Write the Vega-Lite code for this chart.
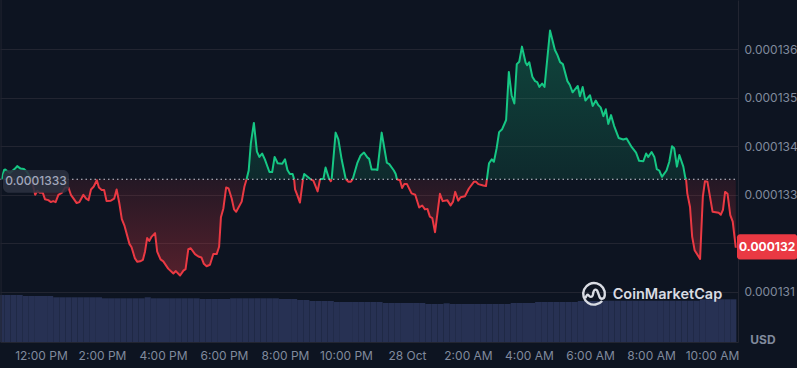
{
"$schema":"https://vega.github.io/schema/vega-lite/v6.json",
"width":738,"height":342,"autosize":"none",
"padding":{"left":0,"top":0,"right":59,"bottom":26},
"background":"#0d1421",
"config":{"view":{"stroke":null},"font":"Inter"},
"datasets":{
"vol":[{"h":10.7,"v":4.7},{"h":10.9,"v":4.7},{"h":11.1,"v":4.7},{"h":11.3,"v":4.7},{"h":11.5,"v":4.6},{"h":11.7,"v":4.6},{"h":11.9,"v":4.6},{"h":12.1,"v":4.6},{"h":12.3,"v":4.6},{"h":12.5,"v":4.47},{"h":12.7,"v":4.47},{"h":12.9,"v":4.47},{"h":13.1,"v":4.47},{"h":13.3,"v":4.47},{"h":13.5,"v":4.47},{"h":13.7,"v":4.47},{"h":13.9,"v":4.47},{"h":14.1,"v":4.37},{"h":14.3,"v":4.37},{"h":14.5,"v":4.37},{"h":14.7,"v":4.37},{"h":14.9,"v":4.37},{"h":15.1,"v":4.37},{"h":15.3,"v":4.37},{"h":15.5,"v":4.47},{"h":15.7,"v":4.37},{"h":15.9,"v":4.37},{"h":16.1,"v":4.37},{"h":16.3,"v":4.37},{"h":16.5,"v":4.37},{"h":16.7,"v":4.37},{"h":16.9,"v":4.37},{"h":17.1,"v":4.37},{"h":17.3,"v":4.3},{"h":17.5,"v":4.3},{"h":17.7,"v":4.3},{"h":17.9,"v":4.3},{"h":18.1,"v":4.3},{"h":18.3,"v":4.37},{"h":18.5,"v":4.37},{"h":18.7,"v":4.37},{"h":18.9,"v":4.37},{"h":19.1,"v":4.37},{"h":19.3,"v":4.37},{"h":19.5,"v":4.37},{"h":19.7,"v":4.37},{"h":19.9,"v":4.3},{"h":20.1,"v":4.3},{"h":20.3,"v":4.3},{"h":20.5,"v":4.2},{"h":20.7,"v":4.2},{"h":20.9,"v":4.1},{"h":21.1,"v":4.1},{"h":21.3,"v":4.1},{"h":21.5,"v":4.1},{"h":21.7,"v":4.0},{"h":21.9,"v":4.0},{"h":22.1,"v":4.0},{"h":22.3,"v":4.0},{"h":22.5,"v":4.0},{"h":22.7,"v":4.0},{"h":22.9,"v":4.0},{"h":23.1,"v":4.0},{"h":23.3,"v":3.9},{"h":23.5,"v":3.9},{"h":23.7,"v":3.9},{"h":23.9,"v":3.9},{"h":24.1,"v":3.9},{"h":24.3,"v":3.9},{"h":24.5,"v":3.9},{"h":24.7,"v":3.8},{"h":24.9,"v":3.8},{"h":25.1,"v":3.8},{"h":25.3,"v":3.87},{"h":25.5,"v":3.8},{"h":25.7,"v":3.8},{"h":25.9,"v":3.8},{"h":26.1,"v":3.8},{"h":26.3,"v":3.8},{"h":26.5,"v":3.8},{"h":26.7,"v":3.8},{"h":26.9,"v":3.8},{"h":27.1,"v":3.8},{"h":27.3,"v":3.8},{"h":27.5,"v":3.9},{"h":27.7,"v":3.9},{"h":27.9,"v":3.9},{"h":28.1,"v":3.9},{"h":28.3,"v":4.0},{"h":28.5,"v":4.0},{"h":28.7,"v":4.0},{"h":28.9,"v":4.0},{"h":29.1,"v":4.0},{"h":29.3,"v":4.0},{"h":29.5,"v":4.0},{"h":29.7,"v":4.1},{"h":29.9,"v":4.1},{"h":30.1,"v":4.1},{"h":30.3,"v":4.1},{"h":30.5,"v":4.13},{"h":30.7,"v":4.13},{"h":30.9,"v":4.13},{"h":31.1,"v":4.13},{"h":31.3,"v":4.13},{"h":31.5,"v":4.13},{"h":31.7,"v":4.13},{"h":31.9,"v":4.13},{"h":32.1,"v":4.13},{"h":32.3,"v":4.13},{"h":32.5,"v":4.13},{"h":32.7,"v":4.13},{"h":32.9,"v":4.13},{"h":33.1,"v":4.13},{"h":33.3,"v":4.13},{"h":33.5,"v":4.13},{"h":33.7,"v":4.27},{"h":33.9,"v":4.27},{"h":34.1,"v":4.27},{"h":34.3,"v":4.27},{"h":34.5,"v":4.27},{"h":34.7,"v":4.27}],
"price":[
{"h":10.71,"p":0.00013332,"s":1,"d":"up"},{"h":10.79,"p":0.00013351,"s":1,"d":"up"},{"h":10.83,"p":0.00013352,"s":1,"d":"up"},{"h":10.98,"p":0.00013345,"s":1,"d":"up"},{"h":11.15,"p":0.00013354,"s":1,"d":"up"},{"h":11.22,"p":0.00013359,"s":1,"d":"up"},{"h":11.33,"p":0.00013354,"s":1,"d":"up"},{"h":11.44,"p":0.00013353,"s":1,"d":"up"},{"h":11.53,"p":0.00013348,"s":1,"d":"up"},{"h":11.62,"p":0.00013339,"s":1,"d":"up"},{"h":11.70,"p":0.00013332,"s":1,"d":"up"},
{"h":11.70,"p":0.00013332,"s":2,"d":"down"},{"h":11.75,"p":0.00013316,"s":2,"d":"down"},{"h":11.81,"p":0.000133,"s":2,"d":"down"},{"h":11.88,"p":0.00013308,"s":2,"d":"down"},{"h":11.97,"p":0.00013304,"s":2,"d":"down"},{"h":12.06,"p":0.00013304,"s":2,"d":"down"},{"h":12.13,"p":0.00013291,"s":2,"d":"down"},{"h":12.24,"p":0.00013289,"s":2,"d":"down"},{"h":12.32,"p":0.00013285,"s":2,"d":"down"},{"h":12.40,"p":0.00013287,"s":2,"d":"down"},{"h":12.48,"p":0.00013285,"s":2,"d":"down"},{"h":12.57,"p":0.000133,"s":2,"d":"down"},{"h":12.68,"p":0.00013304,"s":2,"d":"down"},{"h":12.79,"p":0.00013315,"s":2,"d":"down"},{"h":12.90,"p":0.00013315,"s":2,"d":"down"},{"h":12.98,"p":0.000133,"s":2,"d":"down"},{"h":13.08,"p":0.00013291,"s":2,"d":"down"},{"h":13.17,"p":0.00013283,"s":2,"d":"down"},{"h":13.26,"p":0.00013285,"s":2,"d":"down"},{"h":13.39,"p":0.000133,"s":2,"d":"down"},{"h":13.48,"p":0.00013292,"s":2,"d":"down"},{"h":13.56,"p":0.00013289,"s":2,"d":"down"},{"h":13.64,"p":0.00013311,"s":2,"d":"down"},{"h":13.73,"p":0.00013317,"s":2,"d":"down"},{"h":13.83,"p":0.0001333,"s":2,"d":"down"},{"h":13.90,"p":0.00013315,"s":2,"d":"down"},{"h":13.99,"p":0.0001331,"s":2,"d":"down"},{"h":14.07,"p":0.0001331,"s":2,"d":"down"},{"h":14.15,"p":0.00013287,"s":2,"d":"down"},{"h":14.29,"p":0.00013288,"s":2,"d":"down"},{"h":14.40,"p":0.00013292,"s":2,"d":"down"},{"h":14.48,"p":0.00013311,"s":2,"d":"down"},{"h":14.57,"p":0.00013282,"s":2,"d":"down"},{"h":14.65,"p":0.0001325,"s":2,"d":"down"},{"h":14.74,"p":0.00013236,"s":2,"d":"down"},{"h":14.90,"p":0.00013199,"s":2,"d":"down"},{"h":14.97,"p":0.00013192,"s":2,"d":"down"},{"h":15.08,"p":0.00013169,"s":2,"d":"down"},{"h":15.16,"p":0.00013162,"s":2,"d":"down"},{"h":15.25,"p":0.00013163,"s":2,"d":"down"},{"h":15.34,"p":0.00013166,"s":2,"d":"down"},{"h":15.41,"p":0.00013183,"s":2,"d":"down"},{"h":15.48,"p":0.00013211,"s":2,"d":"down"},{"h":15.55,"p":0.00013205,"s":2,"d":"down"},{"h":15.63,"p":0.00013214,"s":2,"d":"down"},{"h":15.74,"p":0.00013221,"s":2,"d":"down"},{"h":15.81,"p":0.00013183,"s":2,"d":"down"},{"h":15.92,"p":0.00013167,"s":2,"d":"down"},{"h":16.01,"p":0.00013163,"s":2,"d":"down"},{"h":16.17,"p":0.00013148,"s":2,"d":"down"},{"h":16.34,"p":0.00013138,"s":2,"d":"down"},{"h":16.42,"p":0.00013143,"s":2,"d":"down"},{"h":16.56,"p":0.00013134,"s":2,"d":"down"},{"h":16.67,"p":0.00013144,"s":2,"d":"down"},{"h":16.74,"p":0.00013147,"s":2,"d":"down"},{"h":16.83,"p":0.00013188,"s":2,"d":"down"},{"h":16.91,"p":0.0001319,"s":2,"d":"down"},{"h":17.05,"p":0.00013178,"s":2,"d":"down"},{"h":17.16,"p":0.00013173,"s":2,"d":"down"},{"h":17.26,"p":0.00013171,"s":2,"d":"down"},{"h":17.34,"p":0.00013158,"s":2,"d":"down"},{"h":17.43,"p":0.00013153,"s":2,"d":"down"},{"h":17.54,"p":0.00013156,"s":2,"d":"down"},{"h":17.65,"p":0.00013178,"s":2,"d":"down"},{"h":17.76,"p":0.00013178,"s":2,"d":"down"},{"h":17.84,"p":0.00013193,"s":2,"d":"down"},{"h":17.90,"p":0.00013254,"s":2,"d":"down"},{"h":17.98,"p":0.00013272,"s":2,"d":"down"},{"h":18.07,"p":0.00013315,"s":2,"d":"down"},{"h":18.15,"p":0.00013313,"s":2,"d":"down"},{"h":18.25,"p":0.00013293,"s":2,"d":"down"},{"h":18.33,"p":0.0001327,"s":2,"d":"down"},{"h":18.40,"p":0.00013265,"s":2,"d":"down"},{"h":18.58,"p":0.00013286,"s":2,"d":"down"},{"h":18.67,"p":0.00013317,"s":2,"d":"down"},{"h":18.74,"p":0.00013332,"s":2,"d":"down"},
{"h":18.74,"p":0.00013332,"s":3,"d":"up"},{"h":18.81,"p":0.0001335,"s":3,"d":"up"},{"h":18.88,"p":0.00013406,"s":3,"d":"up"},{"h":18.98,"p":0.00013448,"s":3,"d":"up"},{"h":19.08,"p":0.00013389,"s":3,"d":"up"},{"h":19.16,"p":0.00013378,"s":3,"d":"up"},{"h":19.25,"p":0.00013385,"s":3,"d":"up"},{"h":19.34,"p":0.00013373,"s":3,"d":"up"},{"h":19.49,"p":0.00013347,"s":3,"d":"up"},{"h":19.58,"p":0.00013347,"s":3,"d":"up"},{"h":19.66,"p":0.00013378,"s":3,"d":"up"},{"h":19.76,"p":0.00013365,"s":3,"d":"up"},{"h":19.91,"p":0.00013364,"s":3,"d":"up"},{"h":20.00,"p":0.00013373,"s":3,"d":"up"},{"h":20.08,"p":0.00013351,"s":3,"d":"up"},{"h":20.16,"p":0.00013343,"s":3,"d":"up"},{"h":20.25,"p":0.00013343,"s":3,"d":"up"},{"h":20.30,"p":0.00013332,"s":3,"d":"up"},
{"h":20.30,"p":0.00013332,"s":4,"d":"down"},{"h":20.33,"p":0.00013311,"s":4,"d":"down"},{"h":20.40,"p":0.000133,"s":4,"d":"down"},{"h":20.49,"p":0.00013284,"s":4,"d":"down"},{"h":20.59,"p":0.00013332,"s":4,"d":"down"},
{"h":20.59,"p":0.00013332,"s":5,"d":"up"},{"h":20.63,"p":0.00013343,"s":5,"d":"up"},{"h":20.80,"p":0.00013334,"s":5,"d":"up"},{"h":20.84,"p":0.00013332,"s":5,"d":"up"},
{"h":20.84,"p":0.00013332,"s":6,"d":"down"},{"h":20.93,"p":0.00013329,"s":6,"d":"down"},{"h":21.07,"p":0.00013307,"s":6,"d":"down"},{"h":21.15,"p":0.00013332,"s":6,"d":"down"},
{"h":21.15,"p":0.00013332,"s":7,"d":"up"},{"h":21.26,"p":0.00013333,"s":7,"d":"up"},{"h":21.33,"p":0.00013356,"s":7,"d":"up"},{"h":21.43,"p":0.00013336,"s":7,"d":"up"},{"h":21.46,"p":0.00013332,"s":7,"d":"up"},
{"h":21.46,"p":0.00013332,"s":8,"d":"down"},{"h":21.50,"p":0.00013328,"s":8,"d":"down"},{"h":21.53,"p":0.00013332,"s":8,"d":"down"},
{"h":21.53,"p":0.00013332,"s":9,"d":"up"},{"h":21.66,"p":0.00013428,"s":9,"d":"up"},{"h":21.75,"p":0.00013414,"s":9,"d":"up"},{"h":21.86,"p":0.00013372,"s":9,"d":"up"},{"h":21.99,"p":0.00013333,"s":9,"d":"up"},{"h":22.00,"p":0.00013332,"s":9,"d":"up"},
{"h":22.00,"p":0.00013332,"s":10,"d":"down"},{"h":22.08,"p":0.00013327,"s":10,"d":"down"},{"h":22.16,"p":0.00013327,"s":10,"d":"down"},{"h":22.22,"p":0.00013332,"s":10,"d":"down"},
{"h":22.22,"p":0.00013332,"s":11,"d":"up"},{"h":22.37,"p":0.00013365,"s":11,"d":"up"},{"h":22.48,"p":0.00013381,"s":11,"d":"up"},{"h":22.59,"p":0.00013387,"s":11,"d":"up"},{"h":22.70,"p":0.00013377,"s":11,"d":"up"},{"h":22.76,"p":0.00013374,"s":11,"d":"up"},{"h":22.84,"p":0.00013352,"s":11,"d":"up"},{"h":22.98,"p":0.00013352,"s":11,"d":"up"},{"h":23.03,"p":0.00013351,"s":11,"d":"up"},{"h":23.17,"p":0.00013428,"s":11,"d":"up"},{"h":23.34,"p":0.00013366,"s":11,"d":"up"},{"h":23.42,"p":0.00013363,"s":11,"d":"up"},{"h":23.57,"p":0.0001335,"s":11,"d":"up"},{"h":23.63,"p":0.00013343,"s":11,"d":"up"},{"h":23.67,"p":0.00013332,"s":11,"d":"up"},
{"h":23.67,"p":0.00013332,"s":12,"d":"down"},{"h":23.77,"p":0.0001333,"s":12,"d":"down"},{"h":23.84,"p":0.00013314,"s":12,"d":"down"},{"h":23.91,"p":0.00013322,"s":12,"d":"down"},{"h":24.00,"p":0.00013322,"s":12,"d":"down"},{"h":24.15,"p":0.00013303,"s":12,"d":"down"},{"h":24.27,"p":0.000133,"s":12,"d":"down"},{"h":24.40,"p":0.00013274,"s":12,"d":"down"},{"h":24.50,"p":0.00013278,"s":12,"d":"down"},{"h":24.59,"p":0.0001327,"s":12,"d":"down"},{"h":24.67,"p":0.00013271,"s":12,"d":"down"},{"h":24.75,"p":0.00013255,"s":12,"d":"down"},{"h":24.83,"p":0.00013252,"s":12,"d":"down"},{"h":24.92,"p":0.00013223,"s":12,"d":"down"},{"h":25.08,"p":0.00013302,"s":12,"d":"down"},{"h":25.17,"p":0.00013287,"s":12,"d":"down"},{"h":25.32,"p":0.00013289,"s":12,"d":"down"},{"h":25.43,"p":0.00013278,"s":12,"d":"down"},{"h":25.51,"p":0.00013286,"s":12,"d":"down"},{"h":25.58,"p":0.00013306,"s":12,"d":"down"},{"h":25.68,"p":0.00013288,"s":12,"d":"down"},{"h":25.76,"p":0.00013295,"s":12,"d":"down"},{"h":25.90,"p":0.00013297,"s":12,"d":"down"},{"h":26.03,"p":0.00013313,"s":12,"d":"down"},{"h":26.20,"p":0.00013327,"s":12,"d":"down"},{"h":26.26,"p":0.00013327,"s":12,"d":"down"},{"h":26.34,"p":0.00013322,"s":12,"d":"down"},{"h":26.50,"p":0.00013319,"s":12,"d":"down"},{"h":26.59,"p":0.00013318,"s":12,"d":"down"},{"h":26.62,"p":0.00013332,"s":12,"d":"down"},
{"h":26.62,"p":0.00013332,"s":13,"d":"up"},{"h":26.69,"p":0.00013365,"s":13,"d":"up"},{"h":26.78,"p":0.00013373,"s":13,"d":"up"},{"h":26.85,"p":0.00013368,"s":13,"d":"up"},{"h":26.94,"p":0.00013396,"s":13,"d":"up"},{"h":27.02,"p":0.00013429,"s":13,"d":"up"},{"h":27.12,"p":0.00013435,"s":13,"d":"up"},{"h":27.25,"p":0.00013454,"s":13,"d":"up"},{"h":27.34,"p":0.00013553,"s":13,"d":"up"},{"h":27.43,"p":0.00013505,"s":13,"d":"up"},{"h":27.52,"p":0.00013488,"s":13,"d":"up"},{"h":27.60,"p":0.00013569,"s":13,"d":"up"},{"h":27.68,"p":0.00013574,"s":13,"d":"up"},{"h":27.77,"p":0.00013605,"s":13,"d":"up"},{"h":27.89,"p":0.00013572,"s":13,"d":"up"},{"h":27.94,"p":0.00013567,"s":13,"d":"up"},{"h":28.01,"p":0.00013573,"s":13,"d":"up"},{"h":28.11,"p":0.00013543,"s":13,"d":"up"},{"h":28.20,"p":0.00013534,"s":13,"d":"up"},{"h":28.27,"p":0.00013532,"s":13,"d":"up"},{"h":28.34,"p":0.00013522,"s":13,"d":"up"},{"h":28.43,"p":0.00013529,"s":13,"d":"up"},{"h":28.51,"p":0.00013522,"s":13,"d":"up"},{"h":28.69,"p":0.00013638,"s":13,"d":"up"},{"h":28.85,"p":0.00013598,"s":13,"d":"up"},{"h":28.93,"p":0.00013588,"s":13,"d":"up"},{"h":29.02,"p":0.00013573,"s":13,"d":"up"},{"h":29.11,"p":0.00013569,"s":13,"d":"up"},{"h":29.26,"p":0.00013534,"s":13,"d":"up"},{"h":29.34,"p":0.00013526,"s":13,"d":"up"},{"h":29.43,"p":0.00013511,"s":13,"d":"up"},{"h":29.60,"p":0.00013524,"s":13,"d":"up"},{"h":29.67,"p":0.00013503,"s":13,"d":"up"},{"h":29.76,"p":0.00013522,"s":13,"d":"up"},{"h":29.85,"p":0.00013494,"s":13,"d":"up"},{"h":30.00,"p":0.00013505,"s":13,"d":"up"},{"h":30.09,"p":0.00013483,"s":13,"d":"up"},{"h":30.19,"p":0.00013494,"s":13,"d":"up"},{"h":30.27,"p":0.00013485,"s":13,"d":"up"},{"h":30.35,"p":0.0001348,"s":13,"d":"up"},{"h":30.44,"p":0.00013462,"s":13,"d":"up"},{"h":30.52,"p":0.00013476,"s":13,"d":"up"},{"h":30.60,"p":0.00013446,"s":13,"d":"up"},{"h":30.69,"p":0.00013464,"s":13,"d":"up"},{"h":30.79,"p":0.00013442,"s":13,"d":"up"},{"h":30.94,"p":0.00013417,"s":13,"d":"up"},{"h":31.09,"p":0.00013414,"s":13,"d":"up"},{"h":31.20,"p":0.00013416,"s":13,"d":"up"},{"h":31.37,"p":0.00013398,"s":13,"d":"up"},{"h":31.51,"p":0.00013387,"s":13,"d":"up"},{"h":31.61,"p":0.0001337,"s":13,"d":"up"},{"h":31.75,"p":0.00013369,"s":13,"d":"up"},{"h":31.84,"p":0.00013385,"s":13,"d":"up"},{"h":31.91,"p":0.00013378,"s":13,"d":"up"},{"h":32.02,"p":0.00013388,"s":13,"d":"up"},{"h":32.11,"p":0.00013378,"s":13,"d":"up"},{"h":32.19,"p":0.00013353,"s":13,"d":"up"},{"h":32.27,"p":0.0001335,"s":13,"d":"up"},{"h":32.36,"p":0.00013337,"s":13,"d":"up"},{"h":32.51,"p":0.0001335,"s":13,"d":"up"},{"h":32.60,"p":0.00013368,"s":13,"d":"up"},{"h":32.69,"p":0.000134,"s":13,"d":"up"},{"h":32.76,"p":0.00013396,"s":13,"d":"up"},{"h":32.85,"p":0.00013358,"s":13,"d":"up"},{"h":32.93,"p":0.00013382,"s":13,"d":"up"},{"h":33.06,"p":0.00013358,"s":13,"d":"up"},{"h":33.12,"p":0.00013337,"s":13,"d":"up"},{"h":33.15,"p":0.00013332,"s":13,"d":"up"},
{"h":33.15,"p":0.00013332,"s":14,"d":"down"},{"h":33.19,"p":0.00013303,"s":14,"d":"down"},{"h":33.28,"p":0.00013275,"s":14,"d":"down"},{"h":33.35,"p":0.00013214,"s":14,"d":"down"},{"h":33.43,"p":0.00013186,"s":14,"d":"down"},{"h":33.61,"p":0.00013168,"s":14,"d":"down"},{"h":33.70,"p":0.00013296,"s":14,"d":"down"},{"h":33.77,"p":0.00013328,"s":14,"d":"down"},{"h":33.85,"p":0.00013327,"s":14,"d":"down"},{"h":34.02,"p":0.00013265,"s":14,"d":"down"},{"h":34.22,"p":0.00013263,"s":14,"d":"down"},{"h":34.29,"p":0.00013259,"s":14,"d":"down"},{"h":34.36,"p":0.00013269,"s":14,"d":"down"},{"h":34.43,"p":0.00013306,"s":14,"d":"down"},{"h":34.51,"p":0.00013302,"s":14,"d":"down"},{"h":34.60,"p":0.00013258,"s":14,"d":"down"},{"h":34.68,"p":0.00013245,"s":14,"d":"down"},{"h":34.78,"p":0.00013191,"s":14,"d":"down"}
]},
"encoding":{"x":{"field":"h","type":"quantitative","scale":{"domain":[10.656,34.853],"nice":false,"zero":false,"padding":0},
"axis":{"title":null,"values":[12,14,16,18,20,22,24,26,28,30,32,34],"grid":false,"ticks":false,"domainColor":"#222531","domainWidth":1,"labelColor":"#808a9d","labelFontSize":12,"labelPadding":8,"labelOverlap":false,"labelBound":false,"labelFlush":false,
"labelExpr":"datum.value==24?'28 Oct':(datum.value%12==0?12:datum.value%12)+':00 '+(datum.value<24?'PM':'AM')"}}},
"layer":[
{"data":{"name":"vol"},"mark":{"type":"bar","color":"#273153","size":6.1},
 "encoding":{"y":{"field":"v","type":"quantitative","scale":{"domain":[0,34.2],"nice":false},"axis":null}}},
{"encoding":{"y":{"field":"p","type":"quantitative","scale":{"domain":[0.00012997,0.00013701],"nice":false,"zero":false},
 "axis":{"title":null,"orient":"right","values":[0.000131,0.000132,0.000133,0.000134,0.000135,0.000136],"grid":true,"gridColor":"#222531","gridWidth":1,"ticks":false,"domainColor":"#222531","domainWidth":1,"labelColor":"#808a9d","labelFontSize":12,"labelPadding":6,"labelOverlap":false,"labelBound":false,"labelFlush":false,"labelExpr":"datum.value>0.0001315&&datum.value<0.0001325?'':format(datum.value,'.6f')"}}},
 "layer":[
 {"data":{"name":"price"},"transform":[{"filter":"datum.d=='up'"}],"mark":{"type":"area","fill":{"gradient":"linear","x1":0,"x2":0,"y1":0,"y2":1,"stops":[{"offset":0,"color":"rgba(22,199,132,0.28)"},{"offset":1,"color":"rgba(22,199,132,0.12)"}]}},"encoding":{"y2":{"datum":0.00013332}}},
 {"data":{"name":"price"},"transform":[{"filter":"datum.d=='down'"}],"mark":{"type":"area","fill":{"gradient":"linear","x1":0,"x2":0,"y1":0,"y2":1,"stops":[{"offset":0,"color":"rgba(234,57,67,0.1)"},{"offset":1,"color":"rgba(234,57,67,0.32)"}]}},"encoding":{"y2":{"datum":0.00013332}}},
 {"data":{"name":"price"},"mark":{"type":"line","strokeWidth":2,"strokeJoin":"round"},"encoding":{"detail":{"field":"s"},"color":{"field":"d","type":"nominal","legend":null,"scale":{"domain":["up","down"],"range":["#16c784","#ea3943"]}}}},
 {"data":{"values":[{"p":0.00013332}]},"mark":{"type":"rule","color":"#c8ccd6","strokeWidth":1,"strokeDash":[1.5,3]},"encoding":{"x":{"value":0},"x2":{"value":737}}},
 {"data":{"values":[{"h":10.69}]},"mark":{"type":"rule","color":"#222531","strokeWidth":1},"encoding":{"y":{"value":0},"y2":{"value":342}}},
 {"data":{"values":[{"h":10.754,"h2":12.918,"p":0.00013351,"p2":0.00013304}]},"mark":{"type":"rect","color":"#2b3140","opacity":0.88,"cornerRadius":6},"encoding":{"x2":{"field":"h2"},"y2":{"field":"p2"}}},
 {"data":{"values":[{"h":11.84,"p":0.00013328,"label":"0.0001333"}]},"mark":{"type":"text","color":"#a1a7bb","fontSize":12,"fontWeight":500},"encoding":{"text":{"field":"label"}}},
 {"data":{"values":[{"h":34.82,"h2":36.8,"p":0.00013219,"p2":0.00013167}]},"mark":{"type":"rect","color":"#ea3943","cornerRadius":3},"encoding":{"x2":{"field":"h2"},"y2":{"field":"p2"}}},
 {"data":{"values":[{"h":35.81,"p":0.00013193,"label":"0.000132"}]},"mark":{"type":"text","color":"#ffffff","fontSize":12,"fontWeight":700},"encoding":{"text":{"field":"label"}}},
 {"data":{"values":[{"h":35.67,"p":0.00013001,"label":"USD"}]},"mark":{"type":"text","color":"#808a9d","fontSize":12,"fontWeight":700},"encoding":{"text":{"field":"label"}}},
 {"data":{"values":[{"h":32.54,"p":0.00013094,"label":"CoinMarketCap"}]},"mark":{"type":"text","color":"#d9dce3","fontSize":14.5,"fontWeight":600},"encoding":{"text":{"field":"label"}}},
 {"data":{"values":[{"h":30.13,"p":0.00013096}]},"mark":{"type":"point","filled":false,"stroke":"#d9dce3","strokeWidth":2.4,"size":520,"opacity":1,"shape":"M0.72 0.62A0.95 0.95 0 1 1 0.95 0.1C0.9 0.5 0.55 0.55 0.45 0.15L0.3 -0.25C0.2 -0.45 0 -0.4 -0.05 -0.15L-0.1 0.1C-0.15 0.3 -0.35 0.3 -0.45 0.15C-0.55 0 -0.6 0.05 -0.75 0.35"}}
 ]}
],
"resolve":{"scale":{"y":"independent"},"axis":{"y":"independent"}}
}
